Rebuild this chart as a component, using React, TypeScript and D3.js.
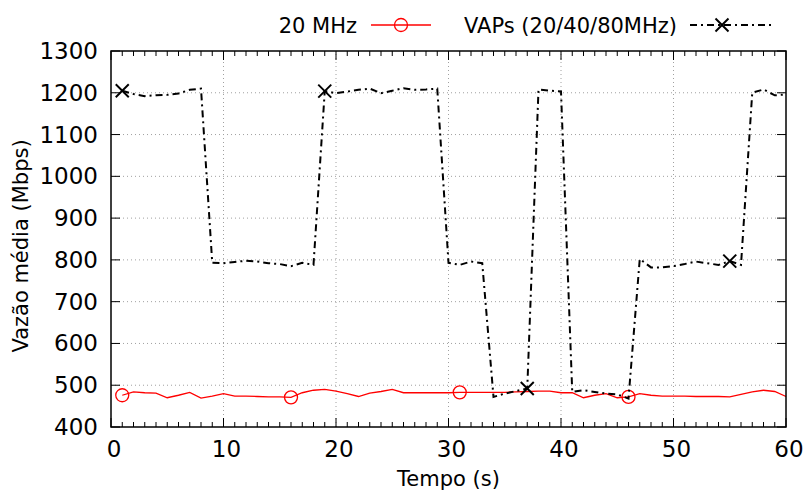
import React from 'react';
import * as d3 from 'd3';

// tempo (s)
const times = [
  1, 2, 3, 4, 5, 6, 7, 8, 9, 10,
  11, 12, 13, 14, 15, 16, 17, 18, 19, 20,
  21, 22, 23, 24, 25, 26, 27, 28, 29, 30,
  31, 32, 33, 34, 35, 36, 37, 38, 39, 40,
  41, 42, 43, 44, 45, 46, 47, 48, 49, 50,
  51, 52, 53, 54, 55, 56, 57, 58, 59, 60,
];

// 20 MHz
const mhz20 = [
  476, 484, 482, 481, 470, 476, 483, 469, 474, 480,
  474, 474, 473, 472, 472, 471, 482, 488, 490, 486,
  480, 473, 481, 485, 490, 482, 482, 482, 482, 482,
  483, 483, 483, 483, 483, 484, 485, 486, 486, 482,
  482, 470, 476, 480, 470, 472, 480, 476, 474, 474,
  474, 473, 473, 473, 472, 478, 484, 488, 485, 473,
];

// VAPs (20/40/80MHz)
const vaps = [
  1205, 1197, 1192, 1194, 1195, 1198, 1207, 1210, 793, 792,
  795, 798, 796, 792, 790, 785, 793, 788, 1204, 1199,
  1203, 1207, 1210, 1199, 1205, 1211, 1207, 1208, 1210, 793,
  788, 796, 792, 472, 480, 486, 492, 1208, 1205, 1203,
  484, 488, 484, 480, 478, 468, 802, 782, 782, 785,
  790, 796, 792, 788, 797, 788, 1200, 1208, 1194, 1196,
];

const mhz20Marks = [1, 16, 31, 46];
const vapsMarks = [1, 19, 37, 55];

const xTicks = [0, 10, 20, 30, 40, 50, 60];
const yTicks = [400, 500, 600, 700, 800, 900, 1000, 1100, 1200, 1300];

const W = 807;
const H = 493;
const margin = { left: 111, right: 21, top: 51, bottom: 66 };
const font = '"DejaVu Sans", Verdana, sans-serif';
const dashDot = '7,4,2,4';

const App: React.FC = () => {
  const x = d3.scaleLinear().domain([0, 60]).range([margin.left, W - margin.right]);
  const y = d3.scaleLinear().domain([400, 1300]).range([H - margin.bottom, margin.top]);
  const x0 = x.range()[0], x1 = x.range()[1];
  const y0 = y.range()[0], y1 = y.range()[1];

  const line = d3.line<number>()
    .x((_, i) => x(times[i]))
    .y(d => y(d));

  const minorX = d3.range(0, 61, 1).filter(t => t % 10 !== 0);

  const cross = (cx: number, cy: number, k: string) => (
    <g key={k} stroke="#000" strokeWidth={2}>
      <line x1={cx - 6.5} y1={cy - 6.5} x2={cx + 6.5} y2={cy + 6.5} />
      <line x1={cx - 6.5} y1={cy + 6.5} x2={cx + 6.5} y2={cy - 6.5} />
    </g>
  );

  return (
    <svg width={W} height={H} style={{ position: 'absolute', left: 0, top: 0, background: '#fff' }}
      fontFamily={font}>
      {/* grid */}
      <g stroke="#a0a0a0" strokeWidth={1} strokeDasharray="1,3">
        {xTicks.slice(1, -1).map(t => (
          <line key={'gx' + t} x1={x(t)} x2={x(t)} y1={y0} y2={y1} />
        ))}
        {yTicks.slice(1, -1).map(v => (
          <line key={'gy' + v} x1={x0} x2={x1} y1={y(v)} y2={y(v)} />
        ))}
      </g>

      {/* ticks */}
      <g stroke="#000" strokeWidth={1}>
        {xTicks.map(t => (
          <g key={'tx' + t}>
            <line x1={x(t)} x2={x(t)} y1={y0} y2={y0 - 9} />
            <line x1={x(t)} x2={x(t)} y1={y1} y2={y1 + 9} />
          </g>
        ))}
        {minorX.map(t => (
          <g key={'mx' + t}>
            <line x1={x(t)} x2={x(t)} y1={y0} y2={y0 - 5} />
            <line x1={x(t)} x2={x(t)} y1={y1} y2={y1 + 5} />
          </g>
        ))}
        {yTicks.map(v => (
          <g key={'ty' + v}>
            <line x1={x0} x2={x0 + 9} y1={y(v)} y2={y(v)} />
            <line x1={x1} x2={x1 - 9} y1={y(v)} y2={y(v)} />
          </g>
        ))}
      </g>

      {/* tick labels */}
      <g fontSize={23} fill="#000">
        {xTicks.map(t => (
          <text key={'lx' + t} x={x(t) + 3} y={y0 + 30} textAnchor="middle">{t}</text>
        ))}
        {yTicks.map(v => (
          <text key={'ly' + v} x={x0 - 13} y={y(v) + 8} textAnchor="end">{v}</text>
        ))}
      </g>

      {/* series */}
      <path d={line(mhz20) ?? ''} fill="none" stroke="#ff0000" strokeWidth={1.3} />
      {mhz20Marks.map(t => (
        <circle key={'c' + t} cx={x(t)} cy={y(mhz20[times.indexOf(t)])} r={6.5}
          fill="none" stroke="#ff0000" strokeWidth={1.3} />
      ))}
      <path d={line(vaps) ?? ''} fill="none" stroke="#000" strokeWidth={2} strokeDasharray={dashDot} />
      {vapsMarks.map(t => cross(x(t), y(vaps[times.indexOf(t)]), 'x' + t))}

      {/* frame */}
      <rect x={x0} y={y1} width={x1 - x0} height={y0 - y1} fill="none" stroke="#000" strokeWidth={1.5} />

      {/* axis titles */}
      <text x={(x0 + x1) / 2} y={H - 7} textAnchor="middle" fontSize={21}>Tempo (s)</text>
      <text transform={`translate(28,246) rotate(-90)`} textAnchor="middle" fontSize={21}>
        Vazão média (Mbps)
      </text>

      {/* legend */}
      <g fontSize={21}>
        <text x={357} y={33} textAnchor="end">20 MHz</text>
        <line x1={371} x2={431} y1={25} y2={25} stroke="#ff0000" strokeWidth={1.3} />
        <circle cx={401} cy={25} r={6.5} fill="none" stroke="#ff0000" strokeWidth={1.3} />
        <text x={677} y={33} textAnchor="end">VAPs (20/40/80MHz)</text>
        <line x1={690} x2={775} y1={25} y2={25} stroke="#000" strokeWidth={2} strokeDasharray={dashDot} />
        {cross(722, 25, 'legx')}
      </g>
    </svg>
  );
};

export default App;
